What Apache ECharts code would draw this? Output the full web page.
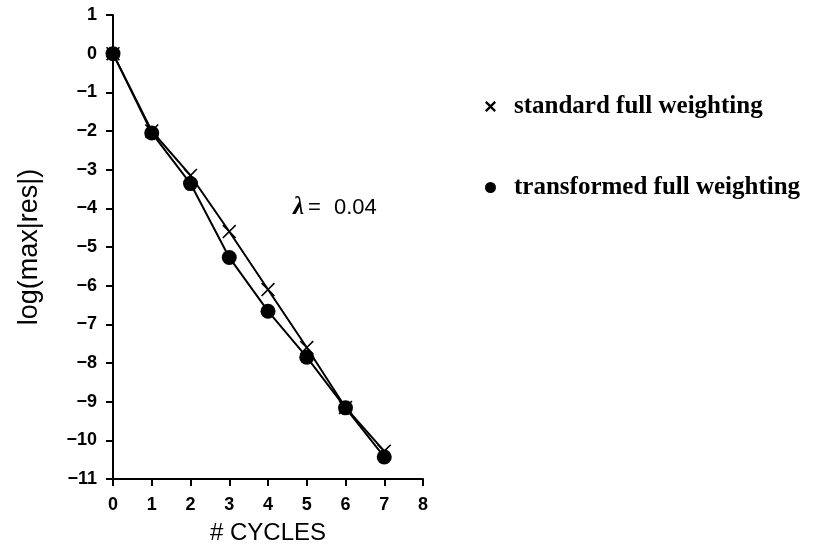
<!DOCTYPE html>
<html>
<head>
<meta charset="utf-8">
<script src="https://cdn.jsdelivr.net/npm/echarts@6/dist/echarts.min.js"></script>
<style>
  html, body { margin: 0; padding: 0; background: #fff; }
  #chart { width: 824px; height: 552px; }
</style>
</head>
<body>
<div id="chart"></div>
<script>
// Multigrid convergence: residual norm per cycle for two restriction operators
const cycles = [0, 1, 2, 3, 4, 5, 6, 7];
const standardFW = [0, -2.0, -3.15, -4.6, -6.1, -7.6, -9.15, -10.28];
const transformedFW = [0, -2.05, -3.36, -5.27, -6.66, -7.85, -9.16, -10.43];
const seriesNames = ['standard full weighting', 'transformed full weighting'];
const xTicks = { min: 0, max: 8, step: 1 };
const yTicks = { min: -11, max: 1, step: 1 };
const lambdaText = '0.04';

const crossPath = 'path://M1.6,0 L10,8.4 L18.4,0 L20,1.6 L11.6,10 L20,18.4 L18.4,20 L10,11.6 L1.6,20 L0,18.4 L8.4,10 L0,1.6 Z';
const crossBold = 'path://M3,0 L10,7 L17,0 L20,3 L13,10 L20,17 L17,20 L10,13 L3,20 L0,17 L7,10 L0,3 Z';

const pairs = (xs, ys) => xs.map((x, i) => [x, ys[i]]);
const minus = v => String(v).replace('-', '\u2212');

const tickFont = { fontFamily: 'Liberation Sans', fontWeight: 'bold', fontSize: 18, color: '#000' };

const chart = echarts.init(document.getElementById('chart'));
chart.setOption({
  animation: false,
  backgroundColor: '#fff',
  grid: { left: 113, top: 15, right: 401, bottom: 73, containLabel: false },
  xAxis: {
    type: 'value',
    min: xTicks.min, max: xTicks.max, interval: xTicks.step,
    name: '# CYCLES',
    nameLocation: 'middle',
    nameGap: 42,
    nameTextStyle: { fontFamily: 'Liberation Sans', fontSize: 24, color: '#000' },
    axisLine: { show: true, onZero: false, lineStyle: { color: '#000', width: 2 } },
    axisTick: { show: true, length: 7, lineStyle: { color: '#000', width: 2 } },
    axisLabel: Object.assign({ margin: 17, formatter: minus }, tickFont),
    splitLine: { show: false }
  },
  yAxis: {
    type: 'value',
    min: yTicks.min, max: yTicks.max, interval: yTicks.step,
    name: 'log(max|res|)',
    nameLocation: 'middle',
    nameRotate: 90,
    nameGap: 70,
    nameTextStyle: { fontFamily: 'Liberation Sans', fontSize: 27, color: '#000' },
    axisLine: { show: true, onZero: false, lineStyle: { color: '#000', width: 2 } },
    axisTick: { show: true, length: 7, lineStyle: { color: '#000', width: 2 } },
    axisLabel: Object.assign({ margin: 16, formatter: minus }, tickFont),
    splitLine: { show: false }
  },
  legend: {
    orient: 'vertical',
    left: 480,
    top: 89,
    itemWidth: 11,
    itemHeight: 11,
    itemGap: 56,
    textStyle: {
      fontFamily: 'Liberation Serif', fontWeight: 'bold', fontSize: 25, color: '#000',
      padding: [0, 0, 0, 13]
    },
    data: [
      { name: seriesNames[0], icon: crossBold },
      { name: seriesNames[1], icon: 'circle' }
    ]
  },
  graphic: [{
    type: 'text',
    left: 293,
    top: 195,
    style: {
      text: '{l|\u03bb}{e|=}{n|' + lambdaText + '}',
      rich: {
        l: { fontFamily: 'Liberation Serif', fontStyle: 'italic', fontWeight: 'bold', fontSize: 25, fill: '#000' },
        e: { fontFamily: 'Liberation Sans', fontSize: 22, fill: '#000', padding: [0, 13, 0, 4] },
        n: { fontFamily: 'Liberation Sans', fontSize: 22, fill: '#000' }
      }
    }
  }],
  series: [
    {
      name: seriesNames[0],
      type: 'line',
      data: pairs(cycles, standardFW),
      symbol: crossPath,
      symbolSize: 14,
      lineStyle: { color: '#000', width: 2 },
      itemStyle: { color: '#000' },
      z: 2
    },
    {
      name: seriesNames[1],
      type: 'line',
      data: pairs(cycles, transformedFW),
      symbol: 'circle',
      symbolSize: 15,
      lineStyle: { color: '#000', width: 2 },
      itemStyle: { color: '#000' },
      z: 3
    }
  ]
});
</script>
</body>
</html>
